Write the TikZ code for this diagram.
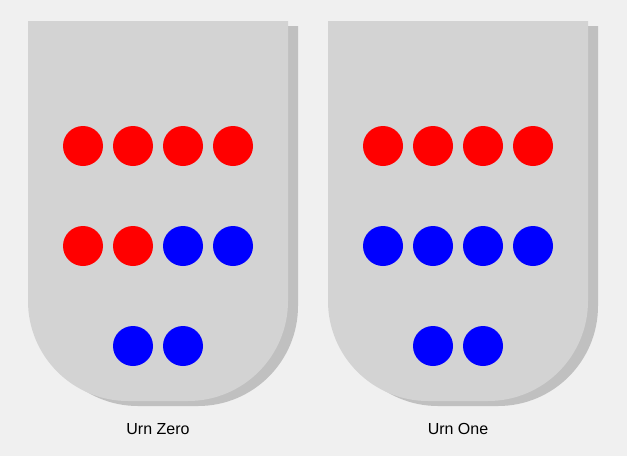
\documentclass[tikz,border=0pt]{standalone}
\usepackage{fontspec}
\setmainfont{Liberation Sans}
\definecolor{bg}{HTML}{F0F0F0}
\definecolor{urnfill}{HTML}{D3D3D3}
\definecolor{urnshadow}{HTML}{C0C0C0}
\begin{document}
\begin{tikzpicture}[x=1pt,y=-1pt,
  redball/.style={circle,fill=red,minimum size=40pt,inner sep=0pt},
  blueball/.style={circle,fill=blue,minimum size=40pt,inner sep=0pt},
  urnlabel/.style={font=\fontsize{16pt}{19pt}\selectfont,inner sep=0pt},
  urnbody/.style={fill=urnfill},
  urnshade/.style={fill=urnshadow}]
\fill[bg] (0,0) rectangle (627,456);
\useasboundingbox (0,0) rectangle (627,456);
\newcommand{\urnpath}[4]{% x0, y0, x1, y1
  (#1,#2) -- (#3,#2) -- (#3,#4-100) arc[start angle=0,end angle=90,radius=100] -- (#1+100,#4) arc[start angle=90,end angle=180,radius=100] -- cycle}
% Urn Zero
\fill[urnshade] \urnpath{38}{26}{298}{406};
\fill[urnbody] \urnpath{28}{21}{288}{401};
% Urn One
\fill[urnshade] \urnpath{338}{26}{598}{406};
\fill[urnbody] \urnpath{328}{21}{588}{401};
% balls urn zero
\node[redball] (a1) at (83,146) {};
\node[redball] (a2) at (133,146) {};
\node[redball] (a3) at (183,146) {};
\node[redball] (a4) at (233,146) {};
\node[redball] (a5) at (83,246) {};
\node[redball] (a6) at (133,246) {};
\node[blueball] (a7) at (183,246) {};
\node[blueball] (a8) at (233,246) {};
\node[blueball] (a9) at (133,346) {};
\node[blueball] (a10) at (183,346) {};
% balls urn one
\node[redball] (b1) at (383,146) {};
\node[redball] (b2) at (433,146) {};
\node[redball] (b3) at (483,146) {};
\node[redball] (b4) at (533,146) {};
\node[blueball] (b5) at (383,246) {};
\node[blueball] (b6) at (433,246) {};
\node[blueball] (b7) at (483,246) {};
\node[blueball] (b8) at (533,246) {};
\node[blueball] (b9) at (433,346) {};
\node[blueball] (b10) at (483,346) {};
\node[urnlabel] (l0) at (158,429) {Urn Zero};
\node[urnlabel] (l1) at (458,429) {Urn One};
\end{tikzpicture}
\end{document}
